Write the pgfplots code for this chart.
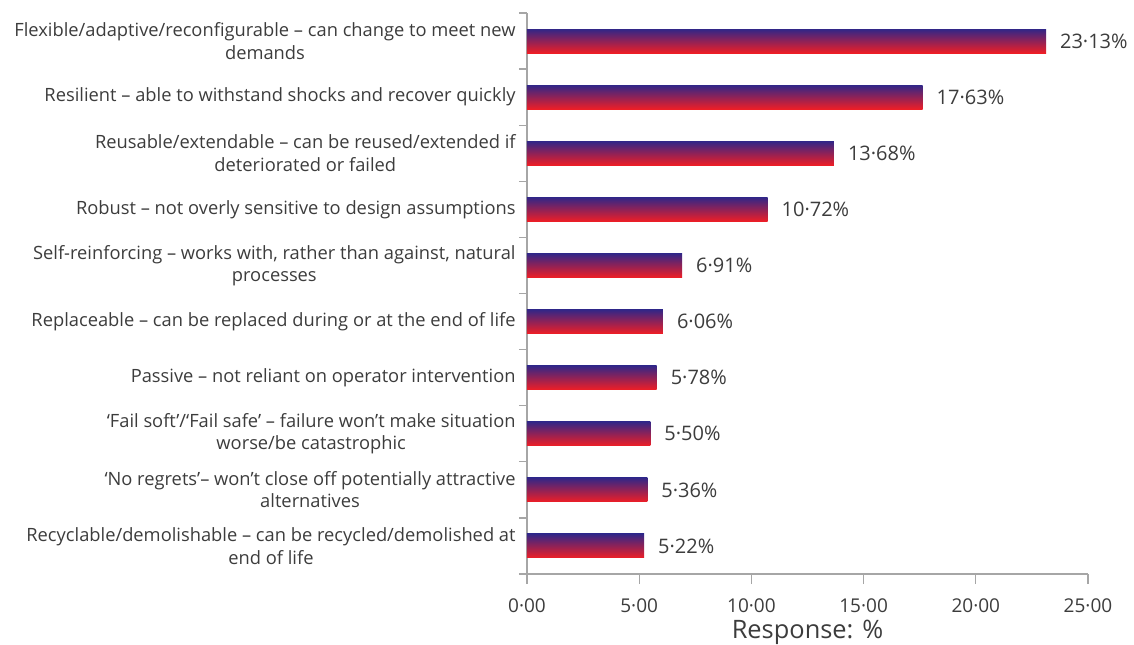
\documentclass[border=0pt]{standalone}
\usepackage{fontspec}
\setmainfont{Open Sans}
\usepackage{pgfplots}
\pgfplotsset{compat=1.18}
\definecolor{barTop}{RGB}{50,38,135}
\definecolor{barMid}{RGB}{170,30,105}
\definecolor{barBot}{RGB}{238,30,38}
\definecolor{txt}{RGB}{60,60,60}
\pgfplotsset{gbar/.style={draw=none, top color=barTop, middle color=barMid, bottom color=barBot, forget plot}}
\begin{document}
\begin{tikzpicture}
\useasboundingbox (-263.5pt,-35pt) rectangle (303.5pt,287pt);
\begin{axis}[
    at={(0,0)}, anchor=south west,
    scale only axis,
    width=280.5pt, height=280.5pt,
    xbar, bar width=12pt, bar shift=0pt,
    xmin=0, xmax=25, ymin=-0.5, ymax=9.5,
    axis x line*=bottom, axis y line*=left,
    axis line style={gray!70, line width=0.6pt},
    every tick/.style={gray!70, line width=0.6pt},
    tick align=outside,
    major tick length=5pt,
    minor tick length=4pt,
    xtick={0,5,10,15,20,25},
    xticklabels={0·00,5·00,10·00,15·00,20·00,25·00},
    ytick={0,...,9},
    major y tick style={draw=none},
    minor ytick={-0.5,0.5,1.5,2.5,3.5,4.5,5.5,6.5,7.5,8.5,9.5},
    yticklabels={
        {Recyclable/demolishable -- can be recycled/demolished at\\end of life},
        {‘No regrets’-- won’t close off potentially attractive\\alternatives},
        {‘Fail soft’/‘Fail safe’ -- failure won’t make situation\\worse/be catastrophic},
        {Passive -- not reliant on operator intervention},
        {Replaceable -- can be replaced during or at the end of life},
        {Self-reinforcing -- works with, rather than against, natural\\processes},
        {Robust -- not overly sensitive to design assumptions},
        {Reusable/extendable -- can be reused/extended if\\deteriorated or failed},
        {Resilient -- able to withstand shocks and recover quickly},
        {Flexible/adaptive/reconfigurable -- can change to meet new\\demands}},
    yticklabel style={align=center, font=\fontsize{9.15}{11.2}\selectfont, text=txt, inner xsep=0.5pt},
    xticklabel style={font=\fontsize{9.5}{11}\selectfont, text=txt, yshift=-4pt},
    xlabel={Response: \%},
    xlabel style={font=\fontsize{12.7}{14}\selectfont, text=txt, yshift=3.5pt},
    point meta=explicit symbolic,
    nodes near coords,
    nodes near coords style={anchor=west, xshift=3.5pt, font=\fontsize{10}{12}\selectfont, text=txt},
]
\addplot[gbar] coordinates {(5.22,0) [5·22\%]};
\addplot[gbar] coordinates {(5.36,1) [5·36\%]};
\addplot[gbar] coordinates {(5.50,2) [5·50\%]};
\addplot[gbar] coordinates {(5.78,3) [5·78\%]};
\addplot[gbar] coordinates {(6.06,4) [6·06\%]};
\addplot[gbar] coordinates {(6.91,5) [6·91\%]};
\addplot[gbar] coordinates {(10.72,6) [10·72\%]};
\addplot[gbar] coordinates {(13.68,7) [13·68\%]};
\addplot[gbar] coordinates {(17.63,8) [17·63\%]};
\addplot[gbar] coordinates {(23.13,9) [23·13\%]};
\end{axis}
\end{tikzpicture}
\end{document}
